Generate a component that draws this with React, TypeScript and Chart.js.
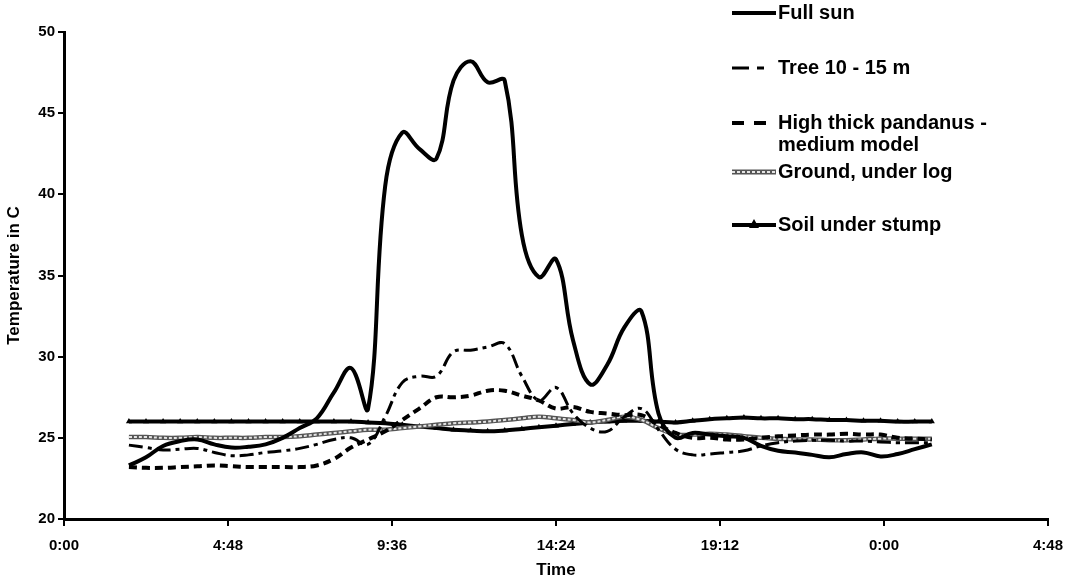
import React, { useEffect, useRef } from "react";
import { Chart, registerables } from "chart.js";

Chart.register(...registerables);

// Time of each reading, in hours from 0:00 of the first day
const hours = [
  1.9, 2.4, 2.9, 3.4, 3.9, 4.4, 4.9, 5.4, 5.9, 6.4, 6.9, 7.4,
  7.9, 8.4, 8.9, 9.4, 9.9, 10.4, 10.9, 11.4, 11.9, 12.4, 12.9, 13.4,
  13.9, 14.4, 14.9, 15.4, 15.9, 16.4, 16.9, 17.4, 17.9, 18.4, 18.9, 19.4,
  19.9, 20.4, 20.9, 21.4, 21.9, 22.4, 22.9, 23.4, 23.9, 24.4, 24.9, 25.4,
];

const fullSun = [
  23.3, 23.8, 24.5, 24.8, 24.9, 24.6, 24.4, 24.45, 24.6, 25.0, 25.6, 26.2,
  27.8, 29.3, 26.8, 40.5, 43.8, 42.8, 42.2, 47.0, 48.2, 46.9, 47.0, 37.5,
  34.9, 36.0, 31.0, 28.3, 29.5, 31.8, 32.8, 26.5, 25.0, 25.3, 25.2, 25.1,
  25.0, 24.5, 24.2, 24.1, 23.95, 23.8, 24.0, 24.1, 23.85, 24.0, 24.3, 24.6,
];

const tree = [
  24.55, 24.4, 24.25, 24.3, 24.35, 24.1, 23.9, 23.95, 24.1, 24.2, 24.35, 24.6,
  24.9, 25.0, 24.6, 26.3, 28.4, 28.8, 28.8, 30.3, 30.4, 30.6, 30.8, 28.8,
  27.3, 28.1, 26.5, 25.6, 25.4, 26.3, 26.8, 25.5, 24.3, 23.95, 24.0, 24.1,
  24.2, 24.5, 24.7, 24.8, 24.85, 24.85, 24.8, 24.8, 24.75, 24.7, 24.7, 24.7,
];

const pandanus = [
  23.2, 23.15, 23.15, 23.2, 23.25, 23.3, 23.25, 23.2, 23.2, 23.2, 23.2, 23.3,
  23.7, 24.4, 24.9, 25.4, 26.1, 26.8, 27.5, 27.5, 27.6, 27.9, 27.9, 27.6,
  27.3, 26.8, 26.9, 26.6, 26.5, 26.4, 26.4, 25.8, 25.3, 25.0, 25.0, 24.9,
  24.9, 25.0, 25.1, 25.15, 25.2, 25.2, 25.25, 25.2, 25.2, 25.0, 24.95, 24.9,
];

const groundLog = [
  25.05, 25.05, 25.0, 25.0, 25.05, 25.0, 25.0, 25.0, 25.05, 25.05, 25.1, 25.2,
  25.3, 25.4, 25.5, 25.5, 25.6, 25.7, 25.8, 25.9, 25.95, 26.0, 26.1, 26.2,
  26.3, 26.2, 26.1, 25.95, 26.1, 26.3, 26.1, 25.6, 25.2, 25.2, 25.25, 25.2,
  25.1, 25.0, 24.95, 24.9, 24.9, 24.85, 24.85, 24.9, 24.95, 24.95, 24.95, 24.95,
];

const soilStump = [
  26.0, 26.0, 26.0, 26.0, 26.0, 26.0, 26.0, 26.0, 26.0, 26.0, 26.0, 26.0,
  26.0, 26.0, 25.95, 25.9, 25.8, 25.7, 25.6, 25.5, 25.45, 25.4, 25.45, 25.55,
  25.65, 25.75, 25.85, 25.95, 26.0, 26.05, 26.05, 26.0, 25.95, 26.05, 26.15, 26.2,
  26.25, 26.2, 26.2, 26.15, 26.15, 26.1, 26.1, 26.05, 26.05, 26.0, 26.0, 26.0,
];

const seriesNames = [
  "Full sun",
  "Tree 10 - 15 m",
  "High thick pandanus - medium model",
  "Ground, under log",
  "Soil under stump",
];

const legendLines = [
  ["Full sun"],
  ["Tree 10 - 15 m"],
  ["High thick pandanus -", "medium model"],
  ["Ground, under log"],
  ["Soil under stump"],
];

const yTicks = { min: 20, max: 50, step: 5 };
const xTicksMinutes = { min: 0, max: 1728, step: 288 };

const FONT = '"Liberation Sans", Arial, Helvetica, sans-serif';

function toPoints(vals: number[]) {
  return vals.map((v, i) => ({ x: hours[i] * 60, y: v }));
}

function fmtTime(v: number) {
  const m = Math.round(v) % 1440;
  const h = Math.floor(m / 60);
  const mm = m % 60;
  return `${h}:${mm < 10 ? "0" : ""}${mm}`;
}

const legendPlugin = {
  id: "customLegend",
  afterDraw(chart: any) {
    const ctx = chart.ctx as CanvasRenderingContext2D;
    const x0 = 732;
    const x1 = 776;
    const tx = 778;
    const rows = [13, 68, 123, 172, 225];
    ctx.save();
    ctx.font = `bold 20px ${FONT}`;
    ctx.fillStyle = "#000";
    ctx.textBaseline = "middle";
    ctx.textAlign = "left";
    legendLines.forEach((lines, i) => {
      const y = rows[i];
      lines.forEach((t, j) => ctx.fillText(t, tx, y + j * 22));
      ctx.lineCap = "butt";
      ctx.strokeStyle = "#000";
      ctx.beginPath();
      if (i === 0) {
        ctx.lineWidth = 4;
        ctx.setLineDash([]);
      } else if (i === 1) {
        ctx.lineWidth = 3;
        ctx.setLineDash([17, 8, 7, 20]);
      } else if (i === 2) {
        ctx.lineWidth = 4;
        ctx.setLineDash([12, 10]);
      } else if (i === 3) {
        ctx.lineWidth = 5;
        ctx.strokeStyle = "#555";
        ctx.setLineDash([]);
      } else {
        ctx.lineWidth = 4;
        ctx.setLineDash([]);
      }
      ctx.moveTo(x0, y);
      ctx.lineTo(x1, y);
      ctx.stroke();
      if (i === 3) {
        ctx.beginPath();
        ctx.lineWidth = 2;
        ctx.strokeStyle = "#e6e6e6";
        ctx.setLineDash([3, 2]);
        ctx.moveTo(x0, y);
        ctx.lineTo(x1, y);
        ctx.stroke();
      }
      if (i === 4) {
        const cx = (x0 + x1) / 2;
        ctx.beginPath();
        ctx.setLineDash([]);
        ctx.fillStyle = "#000";
        ctx.moveTo(cx, y - 6);
        ctx.lineTo(cx + 5, y + 3);
        ctx.lineTo(cx - 5, y + 3);
        ctx.closePath();
        ctx.fill();
      }
    });
    ctx.restore();
  },
};

export default function App() {
  const ref = useRef<HTMLCanvasElement | null>(null);

  useEffect(() => {
    document.body.style.margin = "0";
    const canvas = ref.current!;
    const tickFont = { family: FONT, size: 15, weight: "bold" as const };
    const titleFont = { family: FONT, size: 17, weight: "bold" as const };
    const chart = new Chart(canvas, {
      type: "line",
      data: {
        datasets: [
          {
            label: seriesNames[0],
            data: toPoints(fullSun),
            borderColor: "#000",
            borderWidth: 4,
            pointRadius: 0,
            tension: 0.4,
          },
          {
            label: seriesNames[1],
            data: toPoints(tree),
            borderColor: "#000",
            borderWidth: 3,
            borderDash: [14, 5, 4, 5],
            pointRadius: 0,
            tension: 0.4,
          },
          {
            label: seriesNames[2],
            data: toPoints(pandanus),
            borderColor: "#000",
            borderWidth: 4,
            borderDash: [8, 5],
            pointRadius: 0,
            tension: 0.4,
          },
          {
            label: seriesNames[3] + " (inner)",
            data: toPoints(groundLog),
            borderColor: "#e4e4e4",
            borderWidth: 2,
            borderDash: [3, 2],
            pointRadius: 0,
            tension: 0.4,
          },
          {
            label: seriesNames[3],
            data: toPoints(groundLog),
            borderColor: "#555",
            borderWidth: 4.5,
            pointRadius: 0,
            tension: 0.4,
          },
          {
            label: seriesNames[4],
            data: toPoints(soilStump),
            borderColor: "#000",
            backgroundColor: "#000",
            borderWidth: 4,
            pointStyle: "triangle",
            pointRadius: 3.5,
            pointBorderWidth: 0,
            tension: 0.4,
          },
        ],
      },
      options: {
        animation: false,
        responsive: false,
        maintainAspectRatio: false,
        layout: {
          autoPadding: false,
          padding: { top: 32, right: 17, left: 0, bottom: 0 },
        } as any,
        plugins: {
          legend: { display: false },
          tooltip: { enabled: false },
        },
        scales: {
          x: {
            type: "linear",
            min: xTicksMinutes.min,
            max: xTicksMinutes.max,
            ticks: {
              stepSize: xTicksMinutes.step,
              callback: (v: any) => fmtTime(Number(v)),
              color: "#000",
              font: tickFont,
              padding: 11,
              maxRotation: 0,
              autoSkip: false,
            },
            grid: {
              drawOnChartArea: false,
              drawTicks: true,
              tickLength: 7,
              color: "#000",
              lineWidth: 2,
            },
            border: { display: true, color: "#000", width: 3 },
            title: {
              display: true,
              text: "Time",
              color: "#000",
              font: titleFont,
              padding: { top: 4, bottom: 3 },
            },
            afterFit: (s: any) => {
              s.height = 65;
            },
          },
          y: {
            type: "linear",
            min: yTicks.min,
            max: yTicks.max,
            ticks: {
              stepSize: yTicks.step,
              color: "#000",
              font: tickFont,
              padding: 3,
            },
            grid: {
              drawOnChartArea: false,
              drawTicks: true,
              tickLength: 6,
              color: "#000",
              lineWidth: 2,
            },
            border: { display: true, color: "#000", width: 3 },
            title: {
              display: true,
              text: "Temperature in C",
              color: "#000",
              font: titleFont,
              padding: { top: 4, bottom: 4 },
            },
            afterFit: (s: any) => {
              s.width = 64;
            },
          },
        },
      },
      plugins: [legendPlugin],
    });
    return () => chart.destroy();
  }, []);

  return (
    <div style={{ width: 1074, height: 584 }}>
      <canvas ref={ref} width={1074} height={584} style={{ display: "block" }} />
    </div>
  );
}
